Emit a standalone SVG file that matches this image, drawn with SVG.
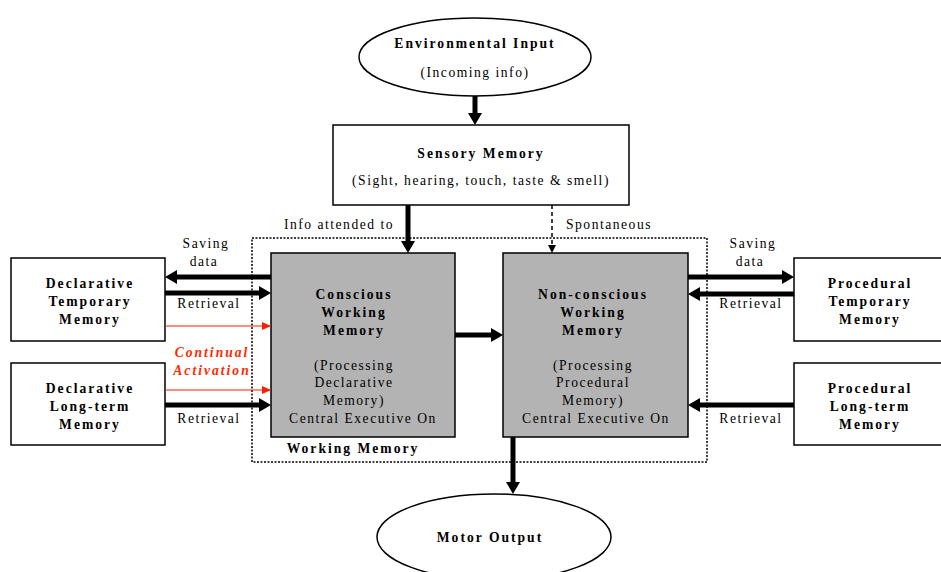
<svg xmlns="http://www.w3.org/2000/svg" width="941" height="572" viewBox="0 0 941 572">
<style>
text{font-family:"Liberation Serif","Times New Roman",serif;font-size:13.6px;fill:#000;text-anchor:middle;letter-spacing:1.5px}
.b{font-weight:bold;letter-spacing:2px}
.r{fill:#ff2a00;font-style:italic;font-weight:bold;letter-spacing:2px}
.box{fill:#fff;stroke:#000;stroke-width:1.5}
.wm{fill:#b3b3b3;stroke:#000;stroke-width:1.5}
.thick{stroke:#000;stroke-width:5;fill:none}
</style>
<defs>
<marker id="ah" markerUnits="userSpaceOnUse" markerWidth="12" markerHeight="14" refX="0" refY="7" orient="auto"><path d="M0,0 L12,7 L0,14 z" fill="#000"/></marker>
<marker id="ahs" markerUnits="userSpaceOnUse" markerWidth="8" markerHeight="8" refX="8" refY="4" orient="auto"><path d="M0,0 L8,4 L0,8 z" fill="#000"/></marker>
<marker id="ahr" markerUnits="userSpaceOnUse" markerWidth="9" markerHeight="8" refX="9" refY="4" orient="auto"><path d="M0,0 L9,4 L0,8 z" fill="#ff1a00"/></marker>
</defs>
<rect x="252" y="238" width="455" height="224" fill="none" stroke="#000" stroke-width="1.5" stroke-dasharray="2,1.5"/>
<text class="b" x="353" y="453">Working Memory</text>
<g id="env"><ellipse cx="475" cy="57" rx="116" ry="39" class="box"/><text class="b" x="475" y="48">Environmental Input</text><text x="475" y="77">(Incoming info)</text></g>
<g id="sensory"><rect x="333" y="125" width="296" height="80" class="box"/><text class="b" x="481" y="158">Sensory Memory</text><text x="481" y="185">(Sight, hearing, touch, taste &amp; smell)</text></g>
<g id="conscious"><rect x="271" y="253" width="184" height="184" class="wm"/>
<text class="b" x="354" y="299">Conscious</text><text class="b" x="354" y="317">Working</text><text class="b" x="354" y="335">Memory</text>
<text x="354" y="370">(Processing</text><text x="354" y="387">Declarative</text><text x="354" y="405">Memory)</text><text x="363" y="423">Central Executive On</text></g>
<g id="nonconscious"><rect x="503" y="253" width="185" height="184" class="wm"/>
<text class="b" x="593" y="299">Non-conscious</text><text class="b" x="593" y="317">Working</text><text class="b" x="593" y="335">Memory</text>
<text x="593" y="370">(Processing</text><text x="593" y="387">Procedural</text><text x="593" y="405">Memory)</text><text x="596" y="423">Central Executive On</text></g>
<g id="decltemp"><rect x="11" y="258" width="154" height="83" class="box"/><text class="b" x="90" y="288">Declarative</text><text class="b" x="90" y="306">Temporary</text><text class="b" x="90" y="324">Memory</text></g>
<g id="decllong"><rect x="11" y="363" width="154" height="82" class="box"/><text class="b" x="90" y="393">Declarative</text><text class="b" x="90" y="411">Long-term</text><text class="b" x="90" y="429">Memory</text></g>
<g id="proctemp"><rect x="794" y="258" width="160" height="83" class="box"/><text class="b" x="870" y="288">Procedural</text><text class="b" x="870" y="306">Temporary</text><text class="b" x="870" y="324">Memory</text></g>
<g id="proclong"><rect x="794" y="363" width="160" height="82" class="box"/><text class="b" x="870" y="393">Procedural</text><text class="b" x="870" y="411">Long-term</text><text class="b" x="870" y="429">Memory</text></g>
<g id="motor"><ellipse cx="494" cy="537" rx="117" ry="43" class="box"/><text class="b" x="490" y="542">Motor Output</text></g>
<g id="connectors">
<line x1="475" y1="96" x2="475" y2="113" class="thick" marker-end="url(#ah)"/>
<line x1="408" y1="205" x2="408" y2="241" class="thick" marker-end="url(#ah)"/>
<line x1="552" y1="205" x2="552" y2="253" stroke="#000" stroke-width="1.5" stroke-dasharray="4,3" marker-end="url(#ahs)"/>
<line x1="455" y1="335" x2="491" y2="335" class="thick" marker-end="url(#ah)"/>
<line x1="513" y1="437" x2="513" y2="482" class="thick" marker-end="url(#ah)"/>
<line x1="271" y1="277" x2="177" y2="277" class="thick" marker-end="url(#ah)"/>
<line x1="165" y1="293" x2="259" y2="293" class="thick" marker-end="url(#ah)"/>
<line x1="165" y1="326" x2="271" y2="326" stroke="#ff1a00" stroke-width="1.2" marker-end="url(#ahr)"/>
<line x1="165" y1="390" x2="271" y2="390" stroke="#ff1a00" stroke-width="1.2" marker-end="url(#ahr)"/>
<line x1="165" y1="405" x2="259" y2="405" class="thick" marker-end="url(#ah)"/>
<line x1="688" y1="277" x2="782" y2="277" class="thick" marker-end="url(#ah)"/>
<line x1="794" y1="294" x2="700" y2="294" class="thick" marker-end="url(#ah)"/>
<line x1="794" y1="405" x2="700" y2="405" class="thick" marker-end="url(#ah)"/>
<text x="339" y="229">Info attended to</text>
<text x="609" y="229">Spontaneous</text>
<text x="206" y="248">Saving</text><text x="204" y="266">data</text>
<text x="209" y="308">Retrieval</text>
<text class="r" x="212" y="357">Continual</text><text class="r" x="212" y="375">Activation</text>
<text x="209" y="423">Retrieval</text>
<text x="753" y="248">Saving</text><text x="750" y="266">data</text>
<text x="751" y="308">Retrieval</text>
<text x="751" y="423">Retrieval</text>
</g>
</svg>
